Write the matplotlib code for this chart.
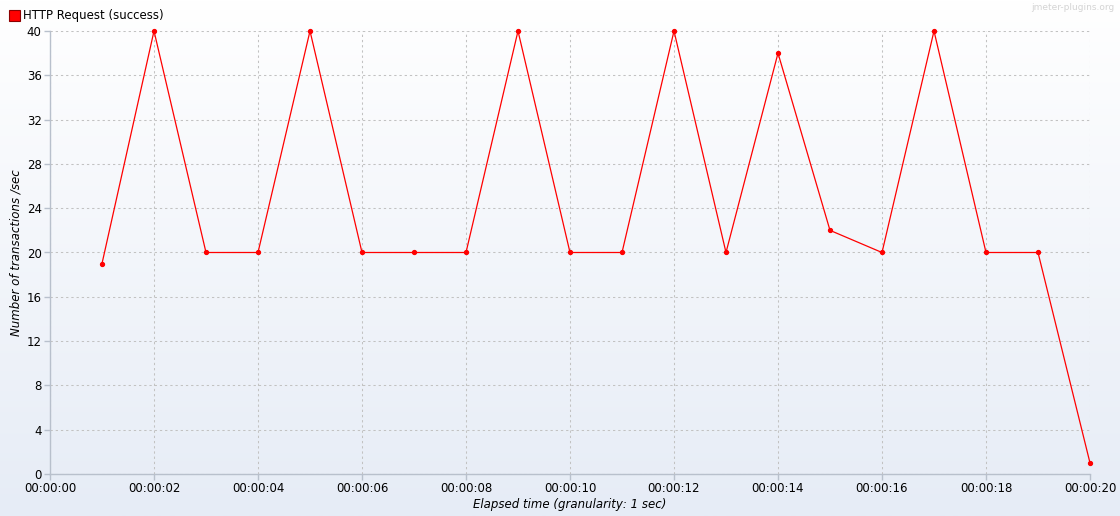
import numpy as np
import matplotlib
matplotlib.use("Agg")
import matplotlib.pyplot as plt
from matplotlib.colors import LinearSegmentedColormap

# Data
seconds = [1, 2, 3, 4, 5, 6, 7, 8, 9, 10, 11, 12, 13, 14, 15, 16, 17, 18, 19, 20]
tps = [19, 40, 20, 20, 40, 20, 20, 20, 40, 20, 20, 40, 20, 38, 22, 20, 40, 20, 20, 1]
x_ticks = list(range(0, 21, 2))
x_tick_labels = ["00:00:%02d" % s for s in x_ticks]
y_ticks = list(range(0, 41, 4))
series_name = "HTTP Request (success)"

plt.rcParams['font.family'] = ['DejaVu Sans']

fig = plt.figure(figsize=(11.2, 5.16), dpi=100)

# background gradient for whole figure
bg = fig.add_axes([0, 0, 1, 1], zorder=-10)
cmap = LinearSegmentedColormap.from_list("bg", ["#ffffff", "#e6ecf6"])
grad = np.linspace(0, 1, 256).reshape(-1, 1)
bg.imshow(grad, aspect='auto', cmap=cmap, extent=[0, 1, 0, 1], origin='upper')
bg.axis('off')

ax = fig.add_axes([50 / 1120, 42 / 516, 1040 / 1120, 443 / 516])
ax.patch.set_alpha(0)
ax.plot(seconds, tps, color='#ff0000', linewidth=0.9, marker='o', markersize=2.8,
        markerfacecolor='#ff0000', markeredgecolor='#ff0000', zorder=3, clip_on=False)

ax.set_xlim(0, 20)
ax.set_ylim(0, 40)
ax.set_xticks(x_ticks)
ax.set_xticklabels(x_tick_labels)
ax.set_yticks(y_ticks)
ax.grid(True, color='#c2c2c2', linestyle=(0, (2.2, 2.8)), linewidth=0.75)
for s in ['top', 'right']:
    ax.spines[s].set_visible(False)
for s in ['left', 'bottom']:
    ax.spines[s].set_color('#b8c0cc')
    ax.spines[s].set_linewidth(1.0)
ax.tick_params(axis='both', colors='#b8c0cc', length=4, width=1, labelsize=8.5,
               labelcolor='#000000', pad=2)

ax.set_xlabel("Elapsed time (granularity: 1 sec)", fontsize=8.5, fontstyle='italic', labelpad=2)
ax.set_ylabel("Number of transactions /sec", fontsize=8.5, fontstyle='italic', labelpad=3)

# legend
fig.patches.append(plt.Rectangle((9 / 1120, 1 - 21 / 516), 11 / 1120, 11 / 516,
                                 transform=fig.transFigure, facecolor='#ff0000',
                                 edgecolor='#8b0000', linewidth=0.8))
fig.text(23 / 1120, 1 - 15.5 / 516, series_name, fontsize=8.5, va='center', ha='left')
fig.text(1114 / 1120, 1 - 7 / 516, "jmeter-plugins.org", fontsize=6.5, color='#d4d4d4',
         va='center', ha='right')

fig.savefig("out.png", dpi=100)
